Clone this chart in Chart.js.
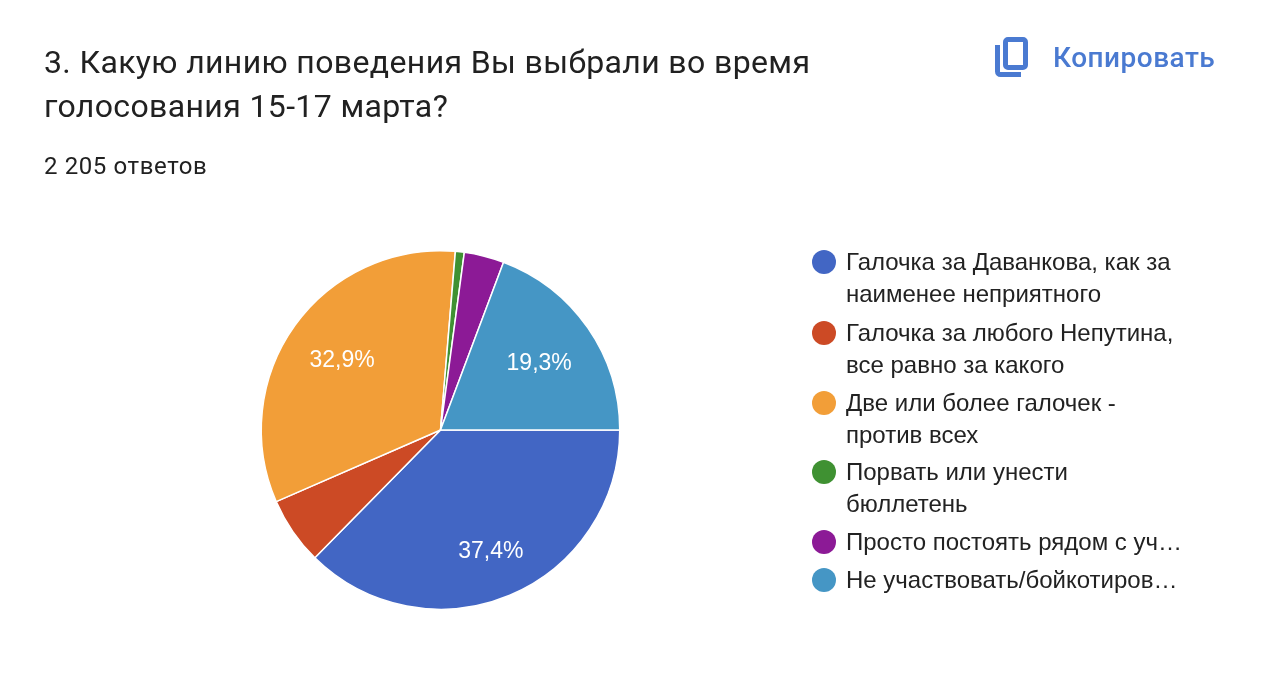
<!DOCTYPE html>
<html lang="ru"><head><meta charset="utf-8">
<style>
html,body{margin:0;padding:0;background:#fff;width:1268px;height:676px;overflow:hidden}
#wrap{position:absolute;left:0;top:0;width:1268px;height:676px}
canvas{position:absolute;left:0;top:0}
.t{position:absolute;white-space:nowrap}
#title{left:44px;top:40px;font:32px/44px Roboto,sans-serif;color:#212121;letter-spacing:.37px}
#sub{left:44px;top:152px;font:24px/28px Roboto,sans-serif;color:#212121;letter-spacing:.6px}
#copy{left:1053px;top:40px;font:500 28px/36px Roboto,sans-serif;color:#4a7ad1;letter-spacing:.5px}
#icon{position:absolute;left:994px;top:37px}
.dot{position:absolute;width:24px;height:24px;border-radius:50%}
.lg{position:absolute;left:846px;font:24px/32px "Liberation Sans",Arial,sans-serif;color:#222;white-space:nowrap}
</style></head><body>
<div id="wrap">
<canvas id="c" width="1268" height="676"></canvas>
<div class="t" id="title">3. Какую линию поведения Вы выбрали во время<br>голосования 15-17 марта?</div>
<div class="t" id="sub">2 205 ответов</div>
<svg id="icon" width="38" height="44" viewBox="0 0 38 44" fill="none" stroke="#4a7ad1" stroke-width="5">
<rect x="11.5" y="2.5" width="20" height="28" rx="2.5"/>
<path d="M3.5 8V34.5a3 3 0 0 0 3 3H27"/>
</svg>
<div class="t" id="copy">Копировать</div>
</div>
<script src="https://cdn.jsdelivr.net/npm/chart.js@4"></script>
<script>
const categories=["Галочка за Даванкова, как за\nнаименее неприятного","Галочка за любого Непутина,\nвсе равно за какого","Две или более галочек -\nпротив всех","Порвать или унести\nбюллетень","Просто постоять рядом с уч…","Не участвовать/бойкотиров…"];
const values=[37.4,6.1,32.9,0.8,3.6,19.3];
const colors=["#4266c4","#cc4a25","#f29e38","#3f9132","#8c1a96","#4596c5"];
const legendTops=[246,317,387,456,526,564];
const wrap=document.getElementById('wrap');
categories.forEach((c,i)=>{
  const d=document.createElement('div');d.className='dot';d.style.left='812px';d.style.top=(legendTops[i]+4)+'px';d.style.background=colors[i];wrap.appendChild(d);
  const l=document.createElement('div');l.className='lg';l.style.top=legendTops[i]+'px';l.innerHTML=c.replace('\n','<br>');wrap.appendChild(l);
});
const labelRadius={0:130,2:121,5:120};
const pieLabels={id:'pieLabels',afterDatasetsDraw(ch){
  const ctx=ch.ctx,arcs=ch.getDatasetMeta(0).data;
  ctx.save();ctx.fillStyle='#fff';ctx.font='23px "Liberation Sans",Arial,sans-serif';ctx.textAlign='center';ctx.textBaseline='middle';
  arcs.forEach((a,i)=>{
    if(!(i in labelRadius))return;
    const m=(a.startAngle+a.endAngle)/2,r=labelRadius[i];
    ctx.fillText(values[i].toFixed(1).replace('.',',')+'%',a.x+Math.cos(m)*r,a.y+Math.sin(m)*r+1.5);
  });
  ctx.restore();
}};
new Chart(document.getElementById('c'),{type:'pie',
 data:{labels:categories,datasets:[{data:values,backgroundColor:colors,borderColor:'#fff',borderWidth:1.5}]},
 options:{responsive:false,animation:false,rotation:90,
  layout:{padding:{left:260,right:647,top:250,bottom:66}},
  plugins:{legend:{display:false},tooltip:{enabled:false}}},
 plugins:[pieLabels]});
</script>
</body></html>
